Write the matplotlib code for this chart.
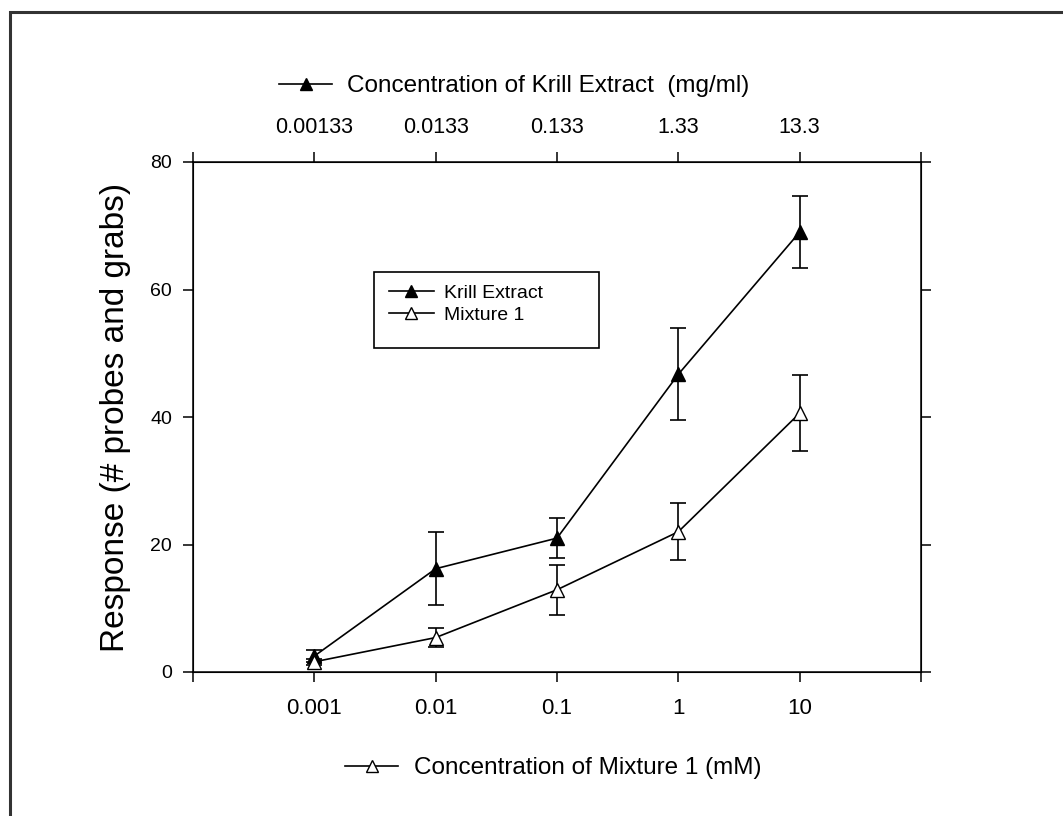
import matplotlib
matplotlib.use("Agg")
import matplotlib.pyplot as plt
from matplotlib.lines import Line2D
from matplotlib.patches import Rectangle
from matplotlib.legend import Legend

plt.rcParams['font.family'] = ['Liberation Sans', 'DejaVu Sans']

# ---- data ----
conc_mixture = [0.001, 0.01, 0.1, 1, 10]
top_labels = ['0.00133', '0.0133', '0.133', '1.33', '13.3']
krill = [2.5, 16.2, 21.0, 46.7, 69.0]
krill_err = [1.0, 5.7, 3.1, 7.2, 5.6]
mixture = [1.6, 5.4, 12.9, 22.0, 40.6]
mixture_err = [0.5, 1.5, 3.9, 4.5, 6.0]
y_ticks = [0, 20, 40, 60, 80]
x_decades = [1e-4, 1e-3, 1e-2, 1e-1, 1, 10, 100]
bottom_labels = ['', '0.001', '0.01', '0.1', '1', '10', '']

W, H = 1063, 816
fig = plt.figure(figsize=(W / 100, H / 100), dpi=100)
ax = fig.add_axes([193 / W, 1 - 672 / H, (921 - 193) / W, (672 - 162) / H])

lw = 1.2
ax.errorbar(conc_mixture, krill, yerr=krill_err, color='black', lw=lw,
            marker='^', ms=10, mfc='black', mec='black', capsize=6,
            elinewidth=lw, capthick=lw, zorder=3)
ax.errorbar(conc_mixture, mixture, yerr=mixture_err, color='black', lw=lw,
            marker='^', ms=10, mfc='white', mec='black', capsize=6,
            elinewidth=lw, capthick=lw, zorder=4)

ax.set_xscale('log')
ax.set_xlim(1e-4, 100)
ax.set_ylim(0, 80)
ax.set_xticks(x_decades)
ax.set_xticklabels(bottom_labels)
ax.xaxis.set_minor_locator(matplotlib.ticker.NullLocator())
ax.set_yticks(y_ticks)
ax.set_yticklabels([str(v) for v in y_ticks])
ax.tick_params(axis='both', direction='out', length=7, width=1.1)
ax.tick_params(axis='x', labelsize=16, pad=12)
ax.tick_params(axis='y', right=True, labelsize=14, pad=8)
for s in ax.spines.values():
    s.set_linewidth(1.1)

ax.set_ylabel('Response (# probes and grabs)', fontsize=24, labelpad=14)

# top axis
ax2 = ax.twiny()
ax2.set_xscale('log')
ax2.set_xlim(ax.get_xlim())
ax2.set_xticks(x_decades)
ax2.set_xticklabels([''] + top_labels + [''])
ax2.xaxis.set_minor_locator(matplotlib.ticker.NullLocator())
ax2.tick_params(axis='x', direction='out', length=7, width=1.1,
                labelsize=15.5, pad=10)

# legend inside
h_k = Line2D([], [], color='black', lw=lw, marker='^', ms=9,
             mfc='black', mec='black')
h_m = Line2D([], [], color='black', lw=lw, marker='^', ms=9,
             mfc='white', mec='black')
fig.patches.append(Rectangle((374 / W, 1 - 348 / H), (599 - 374) / W,
                             (348 - 272) / H, transform=fig.transFigure,
                             fill=False, edgecolor='black', lw=1.2))
leg = Legend(fig, [h_k, h_m], ['Krill Extract', 'Mixture 1'],
             loc='upper left', bbox_to_anchor=(389 / W, 1 - 284 / H),
             bbox_transform=fig.transFigure, frameon=False, fontsize=14,
             handlelength=2.3, handletextpad=0.55, labelspacing=0.25,
             borderpad=0, borderaxespad=0, numpoints=1)
fig.legends.append(leg)

# top "axis title" with handle
leg_top = Legend(fig, [h_k], ['Concentration of Krill Extract  (mg/ml)'],
                 loc='center left', bbox_to_anchor=(279 / W, 1 - 86 / H),
                 bbox_transform=fig.transFigure, frameon=False, fontsize=17.5,
                 handlelength=2.2, handletextpad=0.6, borderpad=0,
                 borderaxespad=0, numpoints=1)
fig.legends.append(leg_top)

# bottom "axis title" with handle
leg_bot = Legend(fig, [h_m], ['Concentration of Mixture 1 (mM)'],
                 loc='center left', bbox_to_anchor=(345 / W, 1 - 768 / H),
                 bbox_transform=fig.transFigure, frameon=False, fontsize=17.5,
                 handlelength=2.2, handletextpad=0.65, borderpad=0,
                 borderaxespad=0, numpoints=1)
fig.legends.append(leg_bot)

# outer frame (right/bottom run off the image)
fig.patches.append(Rectangle((10 / W, -0.2), 1.3, 1.2 - 12 / H,
                             transform=fig.transFigure, fill=False,
                             edgecolor='#333333', lw=2.2, clip_on=False))

fig.savefig('out.png', dpi=100)
